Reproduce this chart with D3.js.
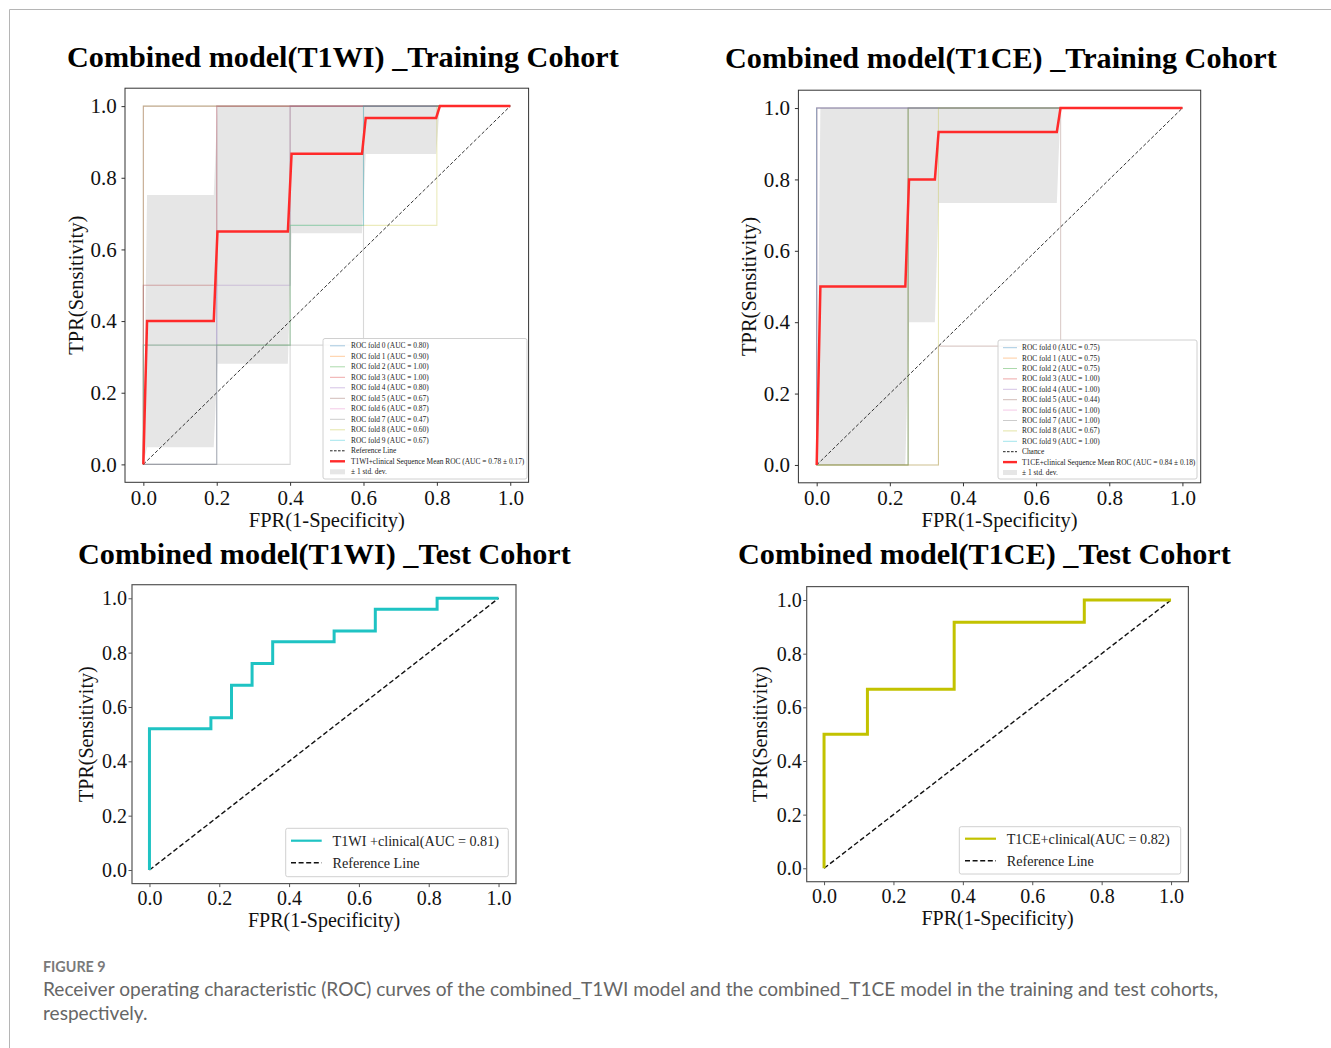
<!DOCTYPE html>
<html><head><meta charset="utf-8">
<script src="https://cdn.jsdelivr.net/npm/d3@7"></script>
<style>body{margin:0;background:#fff}svg{display:block}</style>
</head><body>
<svg id="fig" width="1331" height="1048"></svg>
<script>
// ================= DATA =================
const tickValues = [0.0, 0.2, 0.4, 0.6, 0.8, 1.0];
const foldColors = ["#1f77b4","#ff7f0e","#2ca02c","#d62728","#9467bd","#8c564b","#e377c2","#7f7f7f","#bcbd22","#17becf"];

// --- T1WI training cohort (10 folds) ---
const t1wiFoldAuc = [0.80, 0.90, 1.00, 1.00, 0.80, 0.67, 0.87, 0.47, 0.60, 0.67];
const t1wiFoldFpr = [
  [0, 0.2, 0.2, 1],
  [0, 0, 0.2, 0.2, 1],
  [0, 0, 1],
  [0, 0, 1],
  [0, 0, 0.4, 0.4, 1],
  [0, 0.2, 0.2, 0.4, 0.4, 1],
  [0, 0, 0.2, 0.2, 1],
  [0, 0.4, 0.4, 0.6, 0.6, 1],
  [0, 0, 0.4, 0.4, 0.8, 0.8, 1],
  [0, 0, 0.4, 0.4, 0.6, 0.6, 1]
];
const t1wiFoldTpr = [
  [0, 0, 1, 1],
  [0, 0.5, 0.5, 1, 1],
  [0, 1, 1],
  [0, 1, 1],
  [0, 0.5, 0.5, 1, 1],
  [0, 0, 0.333, 0.333, 1, 1],
  [0, 0.333, 0.333, 1, 1],
  [0, 0, 0.333, 0.333, 1, 1],
  [0, 0.333, 0.333, 0.667, 0.667, 1, 1],
  [0, 0.333, 0.333, 0.667, 0.667, 1, 1]
];
const t1wiMeanFpr  = [0, 0.0101, 0.1919, 0.2020, 0.3939, 0.4040, 0.5960, 0.6061, 0.7980, 0.8081, 1.0];
const t1wiMeanTpr  = [0, 0.400, 0.400, 0.650, 0.650, 0.867, 0.867, 0.967, 0.967, 1.0, 1.0];
const t1wiStdLower = [0, 0.048, 0.048, 0.281, 0.281, 0.645, 0.645, 0.866, 0.866, 1.0, 1.0];
const t1wiStdUpper = [0, 0.752, 0.752, 1.0, 1.0, 1.0, 1.0, 1.0, 1.0, 1.0, 1.0];

// --- T1CE training cohort (10 folds) ---
const t1ceFoldAuc = [0.75, 0.75, 0.75, 1.00, 1.00, 0.44, 1.00, 1.00, 0.67, 1.00];
const t1ceFoldFpr = [
  [0, 0.25, 0.25, 1],
  [0, 0.25, 0.25, 1],
  [0, 0.25, 0.25, 1],
  [0, 0, 1],
  [0, 0, 1],
  [0, 0.333, 0.333, 0.667, 0.667, 1],
  [0, 0, 1],
  [0, 0, 1],
  [0, 0.333, 0.333, 1],
  [0, 0, 1]
];
const t1ceFoldTpr = [
  [0, 0, 1, 1],
  [0, 0, 1, 1],
  [0, 0, 1, 1],
  [0, 1, 1],
  [0, 1, 1],
  [0, 0, 0.333, 0.333, 1, 1],
  [0, 1, 1],
  [0, 1, 1],
  [0, 0, 1, 1],
  [0, 1, 1]
];
const t1ceMeanFpr  = [0, 0.0101, 0.2424, 0.2525, 0.3232, 0.3333, 0.6566, 0.6667, 1.0];
const t1ceMeanTpr  = [0, 0.500, 0.500, 0.800, 0.800, 0.933, 0.933, 1.0, 1.0];
const t1ceStdLower = [0, 0.0, 0.0, 0.400, 0.400, 0.734, 0.734, 1.0, 1.0];
const t1ceStdUpper = [0, 1.0, 1.0, 1.0, 1.0, 1.0, 1.0, 1.0, 1.0];

// --- Test cohorts ---
const t1wiTestFpr = [0, 0, 0.176, 0.176, 0.235, 0.235, 0.294, 0.294, 0.353, 0.353, 0.529, 0.529, 0.647, 0.647, 0.824, 0.824, 1.0];
const t1wiTestTpr = [0, 0.52, 0.52, 0.56, 0.56, 0.68, 0.68, 0.76, 0.76, 0.84, 0.84, 0.88, 0.88, 0.96, 0.96, 1.0, 1.0];
const t1ceTestFpr = [0, 0, 0.125, 0.125, 0.375, 0.375, 0.75, 0.75, 1.0];
const t1ceTestTpr = [0, 0.5, 0.5, 0.667, 0.667, 0.917, 0.917, 1.0, 1.0];

// --- texts ---
const titles = [
  "Combined model(T1WI) _Training Cohort",
  "Combined model(T1CE) _Training Cohort",
  "Combined model(T1WI) _Test Cohort",
  "Combined model(T1CE) _Test Cohort"
];
const xLabel = "FPR(1-Specificity)";
const yLabel = "TPR(Sensitivity)";
const t1wiMeanLabel = "T1WI+clinical Sequence Mean ROC (AUC = 0.78 ± 0.17)";
const t1ceMeanLabel = "T1CE+clinical Sequence Mean ROC (AUC = 0.84 ± 0.18)";
const t1wiTestLabel = "T1WI +clinical(AUC = 0.81)";
const t1ceTestLabel = "T1CE+clinical(AUC = 0.82)";
const captionHead = "FIGURE 9";
const captionLines = [
  "Receiver operating characteristic (ROC) curves of the combined_T1WI model and the combined_T1CE model in the training and test cohorts,",
  "respectively."
];

// ================= DRAWING =================
const SERIF = "'Liberation Serif','Times New Roman',Times,serif";
const svg = d3.select("#fig");

// page frame lines
svg.append("line").attr("x1", 9.5).attr("y1", 9.5).attr("x2", 1331).attr("y2", 9.5)
  .attr("stroke", "#b5b5b5").attr("stroke-width", 1);
svg.append("line").attr("x1", 9.5).attr("y1", 9.5).attr("x2", 9.5).attr("y2", 1048)
  .attr("stroke", "#b5b5b5").attr("stroke-width", 1);

function fitFont(sel, target) {
  const fs = parseFloat(sel.attr("font-size"));
  const len = sel.node().getComputedTextLength();
  sel.attr("font-size", fs * target / len);
}

function zip(a, b) { return a.map((v, i) => [v, b[i]]); }

function panel(cfg) {
  const g = svg.append("g");
  const x = d3.scaleLinear().domain([-0.05, 1.05]).range([cfg.l, cfg.r]);
  const y = d3.scaleLinear().domain([-0.05, 1.05]).range([cfg.b, cfg.t]);
  const line = d3.line().x(d => x(d[0])).y(d => y(d[1]));

  // title
  const t = svg.append("text").attr("x", cfg.titleX).attr("y", cfg.titleY)
    .attr("font-family", SERIF).attr("font-weight", "bold").attr("font-size", 30)
    .attr("fill", "#000").text(cfg.title);
  fitFont(t, cfg.titleW);

  const clipId = "clip" + cfg.id;
  svg.append("clipPath").attr("id", clipId).append("rect")
    .attr("x", cfg.l).attr("y", cfg.t).attr("width", cfg.r - cfg.l).attr("height", cfg.b - cfg.t);
  const plot = g.append("g").attr("clip-path", `url(#${clipId})`);

  if (cfg.band) {
    const area = d3.area().x(d => x(d[0])).y0(d => y(d[1])).y1(d => y(d[2]));
    plot.append("path")
      .datum(cfg.band.fpr.map((v, i) => [v, cfg.band.lower[i], cfg.band.upper[i]]))
      .attr("d", area).attr("fill", "#808080").attr("fill-opacity", 0.2);
  }
  if (cfg.folds) {
    cfg.folds.fpr.forEach((f, i) => {
      plot.append("path").datum(zip(f, cfg.folds.tpr[i])).attr("d", line)
        .attr("fill", "none").attr("stroke", foldColors[i]).attr("stroke-opacity", 0.3)
        .attr("stroke-width", 1.1);
    });
  }
  // diagonal
  plot.append("path").datum([[0, 0], [1, 1]]).attr("d", line)
    .attr("stroke", cfg.diagColor).attr("stroke-width", cfg.diagW)
    .attr("stroke-dasharray", cfg.diagDash).attr("fill", "none");
  // main curve
  plot.append("path").datum(zip(cfg.curve.fpr, cfg.curve.tpr)).attr("d", line)
    .attr("fill", "none").attr("stroke", cfg.curve.color).attr("stroke-width", cfg.curve.w)
    .attr("stroke-linejoin", "miter");

  // frame
  g.append("rect").attr("x", cfg.l).attr("y", cfg.t).attr("width", cfg.r - cfg.l)
    .attr("height", cfg.b - cfg.t).attr("fill", "none")
    .attr("stroke", cfg.spineColor).attr("stroke-width", cfg.spineW);

  // axes
  const fmt = d3.format(".1f");
  const ax = g.append("g").attr("transform", `translate(0,${cfg.b})`)
    .call(d3.axisBottom(x).tickValues(tickValues).tickFormat(fmt).tickSize(3.5).tickPadding(cfg.xPad));
  const ay = g.append("g").attr("transform", `translate(${cfg.l},0)`)
    .call(d3.axisLeft(y).tickValues(tickValues).tickFormat(fmt).tickSize(3.5).tickPadding(cfg.yPad));
  [ax, ay].forEach(a => {
    a.select(".domain").remove();
    a.selectAll("line").attr("stroke", cfg.spineColor).attr("stroke-width", 1);
    a.selectAll("text").attr("font-family", SERIF).attr("font-size", cfg.tickFs).attr("fill", "#111");
  });

  // axis labels
  svg.append("text").attr("x", (cfg.l + cfg.r) / 2).attr("y", cfg.xLabelY)
    .attr("text-anchor", "middle").attr("font-family", SERIF).attr("font-size", cfg.labelFs)
    .attr("fill", "#111").text(xLabel);
  svg.append("text").attr("transform", `translate(${cfg.yLabelX},${(cfg.t + cfg.b) / 2}) rotate(-90)`)
    .attr("text-anchor", "middle").attr("font-family", SERIF).attr("font-size", cfg.labelFs)
    .attr("fill", "#111").text(yLabel);

  // legend
  const L = cfg.legend;
  g.append("rect").attr("x", L.x).attr("y", L.y).attr("width", L.w).attr("height", L.h)
    .attr("rx", 2).attr("fill", "#fff").attr("fill-opacity", 0.85)
    .attr("stroke", "#d0d0d0").attr("stroke-width", 1);
  L.rows.forEach((r, i) => {
    const cy = L.row0 + i * L.step;
    if (r.type === "patch") {
      g.append("rect").attr("x", L.sx1).attr("y", cy - L.patchH / 2).attr("width", L.sx2 - L.sx1)
        .attr("height", L.patchH).attr("fill", "#808080").attr("fill-opacity", 0.2);
    } else {
      g.append("line").attr("x1", L.sx1).attr("x2", L.sx2).attr("y1", cy).attr("y2", cy)
        .attr("stroke", r.color).attr("stroke-opacity", r.opacity)
        .attr("stroke-width", r.w).attr("stroke-dasharray", r.dash || null);
    }
    g.append("text").attr("x", L.tx).attr("y", cy).attr("dy", "0.35em")
      .attr("font-family", SERIF).attr("font-size", L.fs).attr("fill", "#222").text(r.label);
  });
}

function trainRows(auc, refLabel, meanLabel) {
  const rows = auc.map((a, i) => ({ label: `ROC fold ${i} (AUC = ${a.toFixed(2)})`, color: foldColors[i], opacity: 0.4, w: 1 }));
  rows.push({ label: refLabel, color: "#222", opacity: 1, w: 1, dash: "2.6,1.4" });
  rows.push({ label: meanLabel, color: "#ff2a2a", opacity: 1, w: 2.4 });
  rows.push({ label: "± 1 std. dev.", type: "patch" });
  return rows;
}

// Top-left: T1WI training
panel({
  id: 1, l: 125, r: 528.6, t: 88.2, b: 482.3,
  title: titles[0], titleX: 67, titleY: 67, titleW: 552,
  band: { fpr: t1wiMeanFpr, lower: t1wiStdLower, upper: t1wiStdUpper },
  folds: { fpr: t1wiFoldFpr, tpr: t1wiFoldTpr },
  curve: { fpr: t1wiMeanFpr, tpr: t1wiMeanTpr, color: "#ff2a2a", w: 2.5 },
  diagColor: "#333", diagW: 1, diagDash: "3.5,2",
  spineColor: "#333", spineW: 1, tickFs: 21, labelFs: 20.5, xPad: 4, yPad: 4.8,
  xLabelY: 527, yLabelX: 83,
  legend: { x: 323, y: 338.5, w: 204, h: 140.5, row0: 345.8, step: 10.5, sx1: 330, sx2: 345, tx: 351, fs: 7.4, patchH: 5,
            rows: trainRows(t1wiFoldAuc, "Reference Line", t1wiMeanLabel) }
});

// Top-right: T1CE training
panel({
  id: 2, l: 798.4, r: 1200.7, t: 90.2, b: 482.8,
  title: titles[1], titleX: 725, titleY: 68, titleW: 552,
  band: { fpr: t1ceMeanFpr, lower: t1ceStdLower, upper: t1ceStdUpper },
  folds: { fpr: t1ceFoldFpr, tpr: t1ceFoldTpr },
  curve: { fpr: t1ceMeanFpr, tpr: t1ceMeanTpr, color: "#ff2a2a", w: 2.5 },
  diagColor: "#333", diagW: 1, diagDash: "3.5,2",
  spineColor: "#333", spineW: 1, tickFs: 21, labelFs: 20.5, xPad: 4, yPad: 4.8,
  xLabelY: 527, yLabelX: 756,
  legend: { x: 998, y: 340, w: 199, h: 139, row0: 347.7, step: 10.4, sx1: 1003, sx2: 1017, tx: 1022, fs: 7.4, patchH: 5,
            rows: trainRows(t1ceFoldAuc, "Chance", t1ceMeanLabel) }
});

// Bottom-left: T1WI test
panel({
  id: 3, l: 132, r: 516, t: 584.7, b: 883.6,
  title: titles[2], titleX: 78, titleY: 564, titleW: 493,
  curve: { fpr: t1wiTestFpr, tpr: t1wiTestTpr, color: "#1fc3c3", w: 3 },
  diagColor: "#111", diagW: 1.4, diagDash: "5,2.6",
  spineColor: "#555", spineW: 1.2, tickFs: 20, labelFs: 20, xPad: 4, yPad: 1.5,
  xLabelY: 927, yLabelX: 93,
  legend: { x: 285.7, y: 828.3, w: 222.6, h: 48.4, row0: 840.7, step: 22, sx1: 291, sx2: 321.7, tx: 332.5, fs: 14.2, patchH: 5,
            rows: [ { label: t1wiTestLabel, color: "#1fc3c3", opacity: 1, w: 2.2 },
                    { label: "Reference Line", color: "#111", opacity: 1, w: 1.4, dash: "5,2.6" } ] }
});

// Bottom-right: T1CE test
panel({
  id: 4, l: 806.7, r: 1188.4, t: 586.6, b: 881.7,
  title: titles[3], titleX: 738, titleY: 564, titleW: 493,
  curve: { fpr: t1ceTestFpr, tpr: t1ceTestTpr, color: "#c2c200", w: 3 },
  diagColor: "#111", diagW: 1.4, diagDash: "5,2.6",
  spineColor: "#555", spineW: 1.2, tickFs: 20, labelFs: 20, xPad: 4, yPad: 1.5,
  xLabelY: 925, yLabelX: 767,
  legend: { x: 959.3, y: 826.7, w: 221.4, h: 47.3, row0: 838.7, step: 22, sx1: 965, sx2: 996, tx: 1006.7, fs: 14.2, patchH: 5,
            rows: [ { label: t1ceTestLabel, color: "#c2c200", opacity: 1, w: 2.2 },
                    { label: "Reference Line", color: "#111", opacity: 1, w: 1.4, dash: "5,2.6" } ] }
});

// caption
const SANS = "Lato,'Open Sans',sans-serif";
const head = svg.append("text").attr("x", 43).attr("y", 972).attr("font-family", SANS)
  .attr("font-weight", "bold").attr("font-size", 13).attr("fill", "#7a7a7a").text(captionHead);
fitFont(head, 62.7);
const c1 = svg.append("text").attr("x", 43).attr("y", 995.5).attr("font-family", SANS)
  .attr("font-size", 18).attr("fill", "#666").text(captionLines[0]);
fitFont(c1, 1176);
svg.append("text").attr("x", 43).attr("y", 1019.5).attr("font-family", SANS)
  .attr("font-size", c1.attr("font-size")).attr("fill", "#666").text(captionLines[1]);
</script>
</body></html>
